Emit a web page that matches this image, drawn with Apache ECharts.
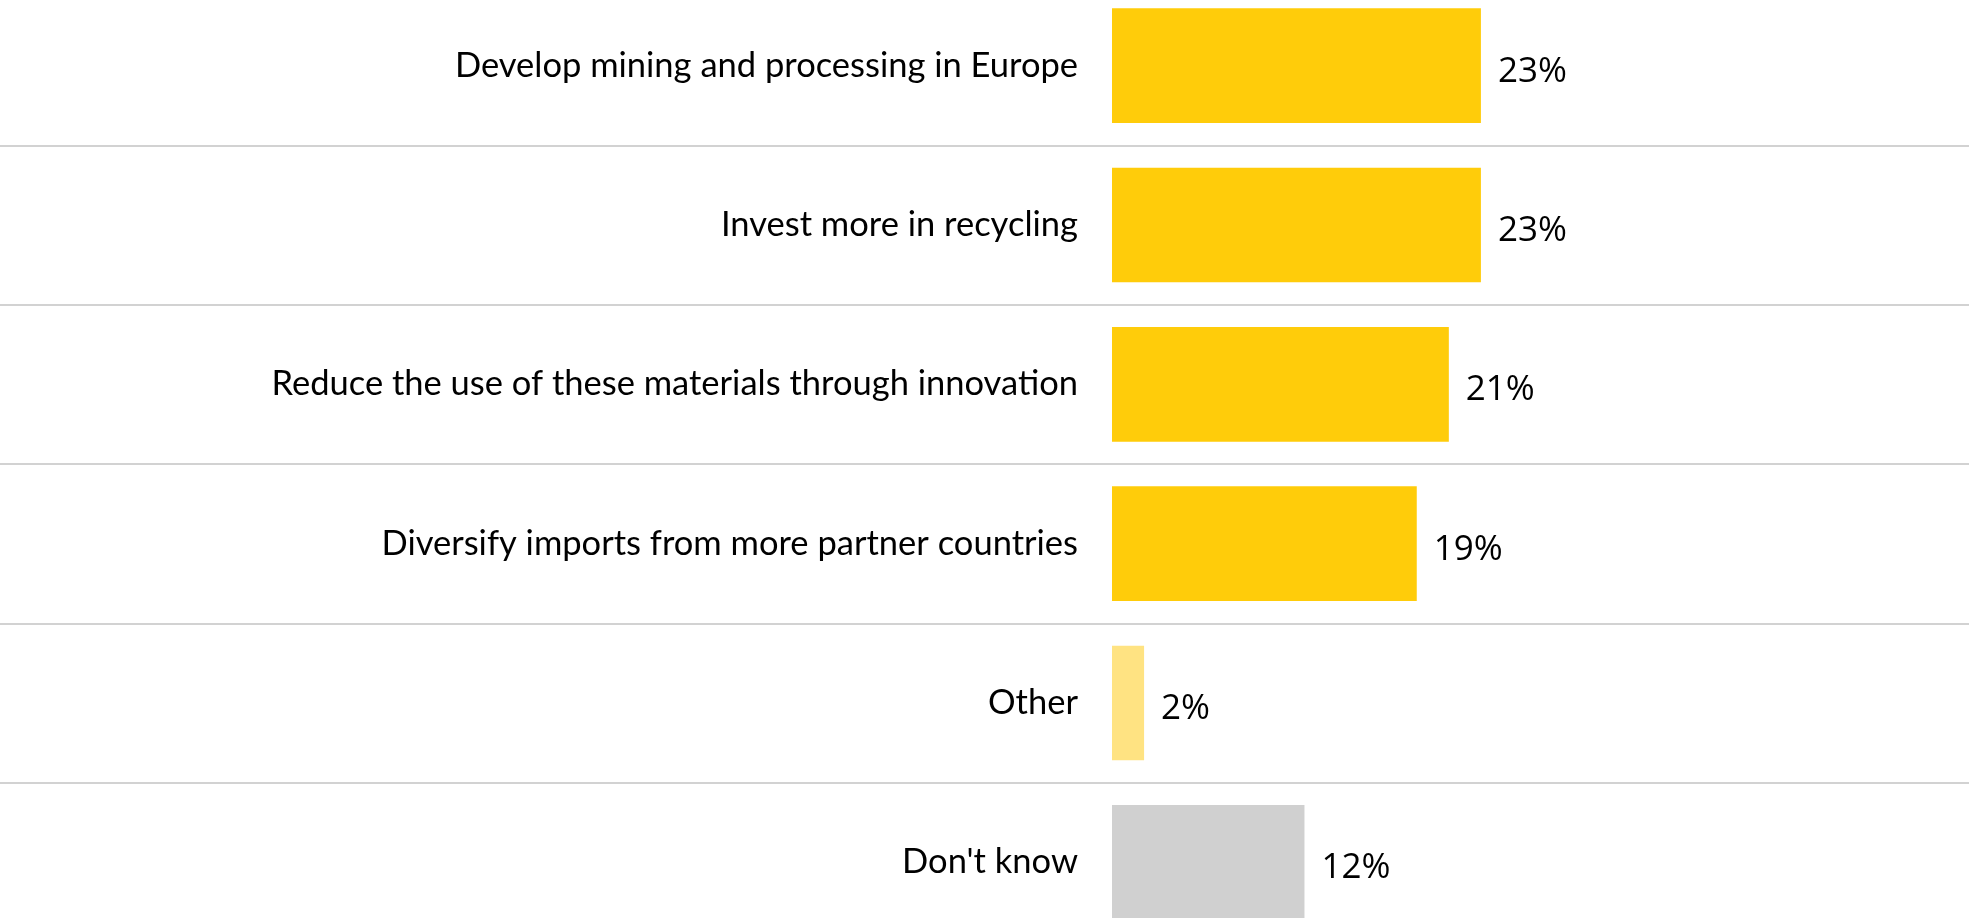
<!DOCTYPE html>
<html>
<head>
<meta charset="utf-8">
<script src="https://cdn.jsdelivr.net/npm/echarts@6/dist/echarts.min.js"></script>
<style>
  html, body { margin: 0; padding: 0; background: #ffffff; overflow: hidden; }
  /* the first and last rows run slightly past the page edges */
  #chart { position: absolute; left: 0; top: -14px; width: 1969px; height: 956px; }
</style>
</head>
<body>
<div id="chart"></div>
<script>
// Survey answers, listed top to bottom
const categories = [
  'Develop mining and processing in Europe',
  'Invest more in recycling',
  'Reduce the use of these materials through innovation',
  'Diversify imports from more partner countries',
  'Other',
  "Don't know"
];
const shares = [23, 23, 21, 19, 2, 12];
const barColors = ['#FFCC0A', '#FFCC0A', '#FFCC0A', '#FFCC0A', '#FFE382', '#D0D0D0'];

const chart = echarts.init(document.getElementById('chart'), null, { renderer: 'canvas' });

chart.setOption({
  animation: false,
  backgroundColor: '#ffffff',
  grid: [
    // full-width grid that only carries the row separators
    { left: 0, right: 0, top: 0, bottom: 0, containLabel: false },
    // grid holding the bars
    { left: 1112, right: 0, top: 0, bottom: 0, containLabel: false }
  ],
  xAxis: [
    { gridIndex: 0, type: 'value', min: 0, max: 1, show: false },
    { gridIndex: 1, type: 'value', min: 0, max: 53.43, show: false }
  ],
  yAxis: [
    {
      gridIndex: 0, type: 'category', data: categories, inverse: true,
      axisLine: { show: false }, axisTick: { show: false }, axisLabel: { show: false },
      splitLine: { show: true, interval: 0, lineStyle: { color: '#d2d2d2', width: 2 } }
    },
    {
      gridIndex: 1, type: 'category', data: categories, inverse: true,
      axisLine: { show: false }, axisTick: { show: false }, splitLine: { show: false },
      axisLabel: {
        margin: 34,
        color: '#000000',
        fontFamily: 'Lato',
        fontSize: 34.5,
        padding: [4, 0, 0, 0]
      }
    }
  ],
  series: [{
    type: 'bar',
    xAxisIndex: 1,
    yAxisIndex: 1,
    barWidth: '72%',
    data: shares.map((v, i) => ({ value: v, itemStyle: { color: barColors[i] } })),
    label: {
      show: true,
      position: 'right',
      distance: 17,
      formatter: '{c}%',
      color: '#000000',
      fontFamily: 'Open Sans',
      fontSize: 35,
      offset: [0, 6]
    }
  }]
});
</script>
</body>
</html>
